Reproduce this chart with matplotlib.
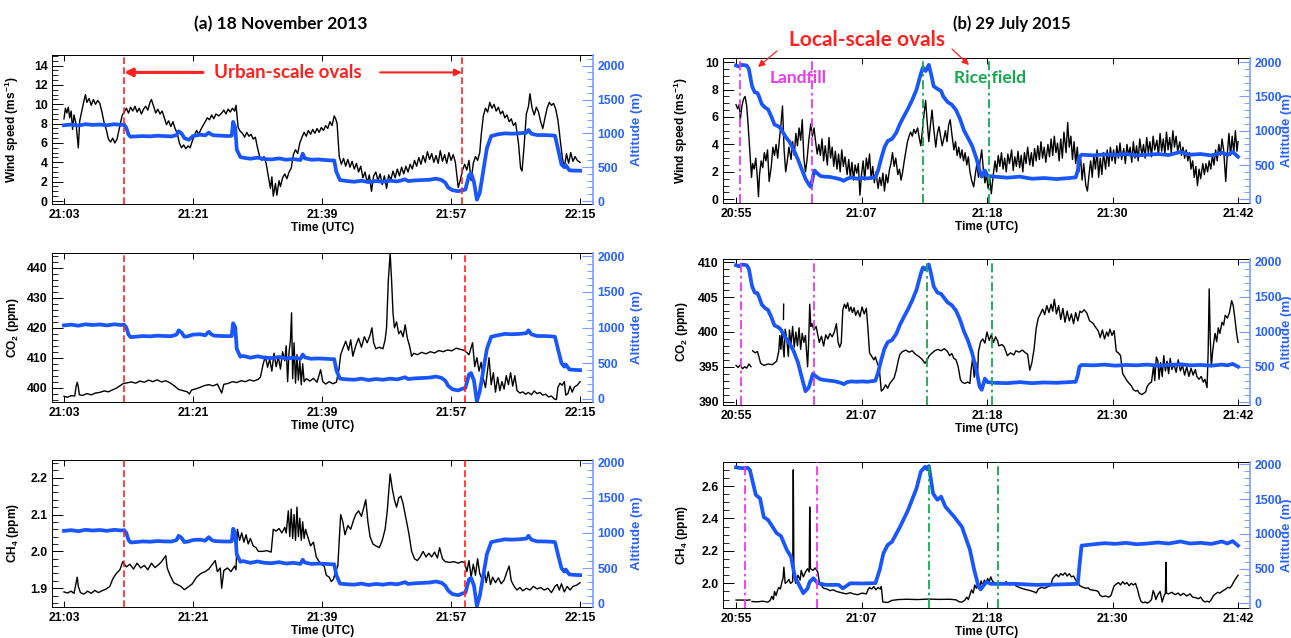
import matplotlib
matplotlib.use("Agg")
import matplotlib.pyplot as plt
import numpy as np
from matplotlib.ticker import MultipleLocator

plt.rcParams['font.family'] = ['Liberation Sans', 'DejaVu Sans']
plt.rcParams['font.weight'] = 'bold'
plt.rcParams['mathtext.fontset'] = 'custom'
plt.rcParams['mathtext.rm'] = 'Liberation Sans:bold'
plt.rcParams['mathtext.bf'] = 'Liberation Sans:bold'
plt.rcParams['mathtext.default'] = 'rm'

# time is in minutes after 20:00 UTC
# ---------------- (a) 18 November 2013 ----------------
wind_a = [(63.0,8.5),(63.2,9.6),(63.4,9.1),(63.6,9.7),(63.8,8.6),(64.0,9.3),(64.2,7.4),(64.4,8.9),(64.7,7.9),(65.0,5.5),(65.2,8.3),(65.4,9.0),
          (65.6,9.7),(65.8,10.4),(66.0,11.0),(66.2,10.2),(66.5,10.6),(66.8,9.9),(67.1,10.5),(67.4,10.0),(67.7,10.4),(68.0,10.1),(68.3,9.2),
          (68.6,8.1),(68.9,7.4),(69.2,6.4),(69.5,6.1),(69.8,6.5),(70.1,6.0),(70.4,6.4),(70.8,7.8),(71.1,8.8),(71.4,9.2),
          (71.7,9.6),(72.0,9.1),(72.3,9.7),(72.6,9.3),(72.9,9.8),(73.2,9.2),(73.5,9.6),(73.8,9.0),(74.1,9.5),(74.4,9.8),(74.7,9.4),
          (75.0,10.2),(75.2,10.5),(75.5,9.8),(75.8,9.1),(76.1,9.5),(76.4,9.0),(76.7,9.3),
          (77.0,8.6),(77.3,7.9),(77.6,8.3),(77.9,7.7),(78.2,8.2),(78.5,7.5),(78.8,7.0),
          (79.1,6.0),(79.4,5.5),(79.7,5.8),(80.0,5.4),(80.3,5.7),(80.6,5.5),(80.9,6.2),
          (81.2,6.8),(81.5,7.3),(81.8,6.9),(82.1,7.4),(82.4,7.8),
          (82.7,8.2),(83.0,8.6),(83.3,8.4),(83.6,8.9),(83.9,8.5),(84.2,9.0),(84.6,8.8),
          (85.0,9.1),(85.3,9.4),(85.6,9.0),(85.9,9.5),(86.2,9.2),(86.5,9.6),(86.8,9.3),(87.0,9.9),
          (87.3,7.6),(87.6,7.2),(87.9,7.0),(88.2,6.6),(88.5,7.1),(88.8,6.7),(89.1,6.9),(89.4,6.4),(89.7,6.6),
          (90.0,5.5),(90.3,4.6),(90.6,4.2),(90.9,4.6),(91.2,3.9),
          (91.5,2.6),(91.8,1.3),(92.0,2.5),(92.2,0.5),(92.5,1.8),(92.7,0.6),(93.0,2.1),(93.2,1.5),(93.5,2.4),
          (93.8,2.8),(94.1,2.3),(94.4,3.0),(94.7,3.4),(95.0,4.8),(95.3,5.3),(95.6,4.9),(95.9,6.0),
          (96.2,6.6),(96.5,7.1),(96.8,6.7),(97.1,7.3),(97.4,6.9),(97.7,7.4),(98.0,7.0),(98.3,7.5),(98.6,7.1),(98.9,7.6),(99.2,7.3),
          (99.5,7.8),(99.8,7.5),(100.1,8.2),(100.4,7.8),(100.7,8.8),(100.9,8.5),(101.1,8.0),
          (101.4,4.6),(101.7,3.8),(102.0,4.4),(102.3,3.6),(102.6,4.3),(102.9,3.5),(103.2,4.1),(103.5,3.3),(103.8,3.9),(104.1,3.0),(104.4,3.6),
          (104.7,2.4),(105.0,3.0),(105.3,1.9),(105.6,2.7),(105.9,1.0),(106.2,2.6),(106.5,3.0),(106.8,2.1),(107.1,2.8),(107.4,1.7),(107.7,2.6),(108.0,1.3),(108.3,2.7),
          (108.6,2.2),(108.9,3.1),(109.2,2.4),(109.5,3.3),(109.8,2.6),(110.1,3.5),(110.4,2.8),(110.7,3.6),(111.0,3.0),(111.3,3.8),
          (111.6,3.3),(111.9,4.2),(112.2,3.6),(112.5,4.5),(112.8,3.8),(113.1,4.7),(113.4,4.0),(113.7,5.1),(114.0,4.3),
          (114.3,4.9),(114.6,4.0),(114.9,4.7),(115.2,3.9),(115.5,5.2),(115.8,4.1),(116.1,4.8),(116.4,3.9),(116.7,5.0),(117.0,4.2),(117.3,4.8),(117.6,4.0),
          (118.0,1.4),(118.3,2.2),(118.6,3.2),(118.9,3.8),(119.2,3.2),(119.5,4.2),(119.8,2.1),(120.1,3.9),(120.4,4.6),(120.7,4.2),(121.0,5.0),
          (121.2,6.8),(121.5,8.8),(121.8,9.6),(122.1,9.2),(122.4,10.2),(122.7,9.6),(123.0,10.0),(123.3,9.3),(123.6,9.7),(123.9,9.0),(124.2,9.3),
          (124.5,8.6),(124.8,8.9),(125.1,8.2),(125.4,8.5),(125.7,7.8),(126.0,8.1),
          (126.4,6.0),(126.7,3.4),(126.9,3.1),(127.2,5.8),(127.5,9.0),(127.8,9.8),(128.0,11.1),(128.3,9.6),(128.6,8.9),(128.9,9.7),(129.2,9.2),
          (129.5,8.2),(129.8,7.5),(130.1,8.6),(130.4,9.6),(130.7,10.2),(131.0,9.9),(131.3,10.1),(131.6,9.5),(131.9,8.4),(132.2,6.5),(132.5,4.6),
          (132.8,3.4),(133.1,4.9),(133.4,3.9),(133.7,5.0),(134.0,4.1),(134.3,4.6),(134.6,4.2),(135.0,4.0)]

co2_a = [(63.0,397.1),(63.5,396.8),(64.0,397.3),(64.5,397.2),(64.7,400.5),(64.85,401.8),(65.0,400.2),(65.15,397.6),(65.6,397.4),(66.2,398.0),
         (66.8,397.6),(67.4,398.2),(68.0,398.4),(68.6,398.9),(69.2,398.6),(69.8,399.3),(70.3,399.8),(70.8,400.6),(71.3,401.4),(71.8,401.6),
         (72.4,401.9),(73.0,401.5),(73.6,402.2),(74.2,401.8),(74.8,402.5),(75.4,402.0),(76.0,402.6),(76.6,401.9),(77.2,402.3),(77.8,401.6),
         (78.4,400.6),(79.0,399.4),(79.6,399.0),(80.2,398.6),(80.5,397.9),(80.8,399.2),(81.4,399.6),(82.0,400.1),(82.6,400.7),(83.2,401.0),
         (83.8,400.6),(84.4,401.2),(85.0,398.2),(85.3,401.1),(85.9,401.4),(86.5,402.0),(87.1,401.7),(87.7,402.3),(88.3,402.0),(88.9,402.6),
         (89.5,402.2),(90.1,402.8),(90.4,403.5),(90.8,408.0),(91.1,410.5),(91.4,406.8),(91.7,409.5),(92.0,405.5),(92.3,411.5),(92.6,407.0),
         (92.9,410.3),(93.2,406.2),(93.5,412.0),(93.8,409.0),(94.0,414.0),(94.2,402.0),(94.4,412.0),(94.6,416.0),(94.75,425.0),(94.9,403.0),
         (95.1,415.0),(95.3,401.5),(95.5,411.0),(95.7,402.5),(95.9,409.0),(96.1,401.0),(96.3,408.0),(96.5,402.0),(96.8,403.0),(97.3,402.2),
         (97.8,403.1),(98.3,401.8),(98.8,406.0),(99.1,402.0),(99.5,401.2),(100.0,402.0),(100.5,401.3),(101.0,401.8),(101.35,406.0),(101.6,411.0),
         (101.9,413.0),(102.3,415.5),(102.7,412.5),(103.0,416.0),(103.3,410.5),(103.7,414.0),(104.1,416.5),(104.5,413.5),(104.9,417.0),(105.3,415.0),
         (105.7,417.5),(105.96,420.0),(106.2,415.0),(106.5,413.0),(107.0,413.5),(107.5,413.0),(107.8,416.0),(108.0,420.0),(108.25,436.0),(108.5,445.0),
         (108.7,436.0),(108.9,425.0),(109.1,420.0),(109.4,422.0),(109.7,418.0),(110.0,419.0),(110.3,417.0),(110.6,421.0),(110.9,416.5),(111.2,414.0),
         (111.5,410.5),(111.8,411.5),(112.3,411.0),(112.9,411.8),(113.5,411.3),(114.1,412.0),(114.7,411.6),(115.3,412.4),(115.9,412.0),(116.5,412.6),
         (117.1,412.3),(117.7,413.2),(118.3,412.8),(118.9,412.4),(119.5,411.0),(120.0,415.0),(120.3,407.0),(120.6,410.0),(120.9,405.5),(121.2,408.5),
         (121.5,403.0),(121.8,400.0),(122.0,404.0),(122.3,410.0),(122.6,401.0),(122.9,405.0),(123.2,398.5),(123.5,403.5),(123.8,399.0),(124.1,402.0),
         (124.4,399.5),(124.7,404.0),(125.0,401.0),(125.3,405.0),(125.6,400.5),(125.9,404.0),(126.2,399.0),(126.6,398.2),(127.0,398.6),(127.4,397.8),
         (127.8,398.4),(128.2,397.6),(128.6,398.9),(129.0,398.0),(129.4,398.4),(129.8,397.5),(130.2,397.8),(130.6,396.9),(131.0,397.2),(131.4,396.2),
         (131.7,396.0),(131.9,400.0),(132.2,401.5),(132.5,400.8),(132.8,402.0),(133.0,397.5),(133.3,398.0),(133.6,400.5),(133.9,398.5),(134.2,400.2),
         (134.6,400.8),(135.0,402.0)]

ch4_a = [(63.0,1.890),(63.5,1.887),(64.0,1.892),(64.4,1.886),(64.7,1.915),(64.85,1.930),(65.0,1.905),(65.3,1.888),(65.8,1.884),(66.3,1.892),
         (66.8,1.886),(67.3,1.894),(67.8,1.888),(68.3,1.893),(68.9,1.898),(69.4,1.905),(69.8,1.925),(70.3,1.940),(70.8,1.950),(71.2,1.972),
         (71.7,1.958),(72.2,1.965),(72.7,1.952),(73.2,1.968),(73.7,1.955),(74.2,1.962),(74.7,1.950),(75.2,1.968),(75.7,1.956),(76.2,1.964),
         (76.6,1.972),(77.2,1.988),(77.4,1.955),(77.8,1.935),(78.3,1.915),(78.8,1.910),(79.3,1.905),(79.8,1.896),(80.3,1.903),(80.9,1.912),
         (81.5,1.930),(82.1,1.940),(82.7,1.945),(83.2,1.952),(84.1,1.975),(84.4,1.945),(84.8,1.955),(85.0,1.900),(85.3,1.948),(85.8,1.955),
         (86.3,1.945),(86.8,1.960),(87.0,1.950),(87.2,2.060),(87.5,2.030),(87.8,2.050),(88.1,2.025),(88.4,2.045),(88.7,2.020),(89.0,2.035),
         (89.4,2.015),(89.8,2.010),(90.1,2.000),(90.7,2.000),(91.3,2.002),(91.9,1.998),(92.2,2.060),(92.6,2.055),(93.0,2.062),(93.4,2.050),
         (93.8,2.065),(94.0,2.050),(94.3,2.110),(94.5,2.040),(94.7,2.115),(94.9,2.035),(95.1,2.100),(95.3,2.030),(95.5,2.120),(95.7,2.040),
         (95.9,2.090),(96.1,2.030),(96.3,2.080),(96.5,2.035),(96.7,2.060),(97.0,2.040),(97.4,2.015),(97.8,2.025),(98.2,1.985),(98.5,1.975),
         (98.9,1.965),(99.3,1.960),(99.6,1.935),(100.0,1.930),(100.3,1.918),(100.6,1.925),(100.9,1.945),(101.2,1.960),(101.6,2.100),(101.9,2.080),
         (102.2,2.045),(102.6,2.070),(103.0,2.060),(103.4,2.085),(103.7,2.100),(104.1,2.110),(104.5,2.095),(105.1,2.140),(105.4,2.080),(105.7,2.040),
         (106.1,2.020),(106.5,2.015),(107.0,2.010),(107.4,2.030),(107.8,2.060),(108.1,2.110),(108.5,2.210),(108.8,2.170),(109.1,2.140),(109.4,2.120),
         (109.7,2.145),(110.0,2.150),(110.3,2.130),(110.6,2.100),(111.1,2.050),(111.5,2.000),(111.9,1.980),(112.3,1.975),(112.7,1.985),(113.1,2.000),
         (113.5,1.985),(113.9,1.995),(114.3,1.985),(114.7,1.998),(115.1,1.982),(115.4,2.010),(115.8,1.980),(116.2,1.972),(116.8,1.970),(117.4,1.972),
         (118.0,1.968),(118.5,1.972),(118.9,1.970),(119.2,1.945),(119.5,1.975),(119.8,1.930),(120.1,1.965),(120.4,1.935),(120.7,1.980),(121.0,1.940),
         (121.3,1.925),(121.6,1.950),(121.9,1.915),(122.2,1.945),(122.5,1.910),(122.8,1.930),(123.2,1.915),(123.6,1.928),(124.0,1.912),(124.4,1.922),
         (124.8,1.945),(125.1,1.960),(125.4,1.920),(125.8,1.905),(126.2,1.895),(126.6,1.902),(127.0,1.893),(127.5,1.900),(128.0,1.895),(128.5,1.905),
         (129.0,1.898),(129.5,1.902),(130.0,1.895),(130.5,1.900),(131.0,1.888),(131.5,1.905),(131.8,1.910),(132.1,1.895),(132.4,1.912),(132.8,1.890),
         (133.2,1.905),(133.6,1.895),(134.0,1.905),(134.5,1.908),(135.0,1.915)]

# altitude as drawn with the wind record
alt_a_wind = [(63.0,1120),(64.0,1130),(65.0,1115),(66.0,1135),(67.0,1125),(68.0,1130),(69.0,1120),(70.0,1135),(71.0,1125),(71.4,1130),
              (71.7,1080),(72.0,980),(72.3,950),(73.0,955),(74.0,960),(75.0,955),(76.0,965),(77.0,960),(78.0,955),(78.7,975),(79.0,1030),
              (79.4,1000),(79.8,930),(80.4,905),(81.0,960),(82.0,980),(82.7,970),(83.2,1010),(83.6,980),(84.0,970),(85.0,965),(86.0,960),
              (86.4,965),(86.6,1170),(86.9,1080),(87.1,760),(87.6,650),(88.0,640),(89.0,625),(90.0,640),(91.0,620),(92.0,615),(93.0,630),
              (94.0,610),(95.0,620),(96.0,605),(96.3,700),(96.6,630),(97.5,610),(98.5,615),(99.5,605),(100.3,600),(100.7,600),(101.0,430),
              (101.5,310),(102.5,295),(103.5,285),(104.5,300),(105.5,280),(106.5,295),(107.5,285),(108.5,300),(109.5,290),(110.6,320),
              (111.0,295),(112.0,305),(113.0,310),(114.0,315),(114.9,330),(115.7,310),(116.2,270),(116.6,200),(117.2,160),(118.0,145),
              (118.6,160),(119.0,170),(119.5,380),(119.8,410),(120.2,280),(120.6,20),(121.0,120),(121.5,450),(122.0,780),(122.6,960),
              (123.5,985),(124.5,1000),(125.5,995),(126.5,1000),(127.5,1010),(127.8,1050),(128.2,995),(129.0,975),(130.0,975),(131.0,970),
              (131.5,965),(131.9,780),(132.4,540),(132.8,500),(133.0,530),(133.5,455),(134.0,450),(135.0,448)]

# altitude as drawn with the trace-gas records
alt_a = [(63.0,1030),(64.0,1040),(65.0,1025),(66.0,1045),(67.0,1035),(68.0,1042),(69.0,1030),(70.0,1045),(71.0,1035),(71.4,1040),(71.7,1000),
         (72.0,900),(72.3,865),(73.0,870),(74.0,880),(75.0,875),(76.0,885),(77.0,880),(78.0,878),(78.7,900),(79.0,960),(79.4,930),(79.8,870),
         (80.4,880),(81.0,900),(82.0,905),(82.7,890),(83.2,940),(83.6,900),(84.0,885),(85.0,880),(86.0,878),(86.4,880),(86.6,1060),(86.9,1000),
         (87.1,700),(87.6,590),(88.0,600),(89.0,575),(90.0,595),(91.0,575),(92.0,570),(93.0,585),(94.0,565),(95.0,575),(96.0,560),(96.3,620),
         (96.6,580),(97.5,560),(98.5,565),(99.5,560),(100.3,555),(100.7,555),(101.0,400),(101.5,280),(102.5,270),(103.5,265),(104.5,280),
         (105.5,260),(106.5,275),(107.5,265),(108.5,280),(109.5,270),(110.6,300),(111.0,275),(112.0,285),(113.0,290),(114.0,295),(114.9,310),
         (115.7,290),(116.2,250),(116.6,180),(117.2,130),(118.0,115),(118.6,140),(119.0,150),(119.5,340),(119.8,360),(120.2,250),(120.6,-40),
         (121.0,100),(121.5,400),(122.0,700),(122.6,870),(123.5,890),(124.5,910),(125.5,905),(126.5,910),(127.5,920),(127.8,960),(128.2,905),
         (129.0,880),(130.0,880),(131.0,875),(131.5,870),(131.9,700),(132.4,500),(132.8,450),(133.0,480),(133.5,410),(134.0,405),(135.0,400)]

# ---------------- (b) 29 July 2015 ----------------
wind_b = [(55.0,6.9),(55.15,6.6),(55.3,6.9),(55.4,5.8),(55.55,6.8),(55.7,7.3),(55.85,7.5),(56.0,6.8),(56.15,5.2),(56.3,3.4),(56.45,1.6),
          (56.55,2.6),(56.7,2.2),(56.85,3.0),(57.0,1.5),(57.1,0.2),(57.2,1.8),(57.35,2.8),(57.5,2.3),(57.65,3.4),(57.8,2.8),(57.95,3.6),
          (58.1,1.3),(58.3,2.4),(58.45,3.8),(58.6,3.2),(58.75,4.0),(58.9,3.0),(59.05,4.3),(59.2,5.4),(59.35,6.8),(59.5,3.6),(59.65,2.0),
          (59.8,2.8),(59.95,3.8),(60.15,2.9),(60.3,4.2),(60.45,3.2),(60.6,4.8),(60.75,3.9),(60.9,5.2),(61.05,4.3),(61.2,5.8),(61.35,3.0),
          (61.5,2.0),(61.65,2.9),(61.8,4.2),(62.0,5.5),(62.15,4.6),(62.3,5.2),(62.45,4.2),(62.6,3.3),(62.75,4.0),(62.9,3.2),(63.05,4.4),
          (63.2,2.8),(63.35,3.9),(63.55,2.5),(63.7,4.5),(63.85,3.0),(64.0,3.8),(64.15,2.4),(64.3,3.5),(64.45,2.2),(64.6,3.3),(64.75,2.0),
          (64.9,3.6),(65.05,2.4),(65.2,3.1),(65.4,1.8),(65.55,2.9),(65.7,1.6),(65.85,2.7),(66.0,1.4),(66.15,2.5),(66.3,1.9),(66.45,2.6),
          (66.6,0.3),(66.75,1.8),(66.9,2.8),(67.05,1.4),(67.2,3.0),(67.35,2.2),(67.5,3.3),(67.65,1.5),(67.8,2.4),(67.95,1.2),(68.1,2.0),
          (68.3,0.8),(68.45,1.6),(68.6,1.0),(68.75,1.9),(68.9,0.6),(69.05,1.8),(69.2,1.2),(69.35,2.1),(69.5,2.6),(69.65,3.4),(69.8,2.4),
          (69.95,3.0),(70.15,1.8),(70.3,2.2),(70.45,1.4),(70.6,2.0),(70.75,2.8),(70.9,3.5),(71.05,4.2),(71.2,4.6),(71.35,4.9),(71.5,4.6),
          (71.65,5.1),(71.8,4.8),(72.0,5.2),(72.15,4.5),(72.3,3.9),(72.45,5.0),(72.6,6.2),(72.75,7.2),(72.9,5.6),(73.05,4.2),(73.2,5.4),
          (73.35,6.5),(73.5,5.2),(73.7,3.8),(73.85,4.8),(74.0,5.3),(74.15,4.6),(74.3,3.9),(74.45,4.4),(74.6,5.0),(74.75,4.2),(74.9,5.4),
          (75.05,5.8),(75.2,4.8),(75.4,3.6),(75.55,4.2),(75.7,3.2),(75.85,3.8),(76.0,3.0),(76.15,3.6),(76.3,2.8),(76.45,3.4),(76.6,2.5),
          (76.75,3.1),(76.9,2.0),(77.05,1.4),(77.25,0.9),(77.4,1.8),(77.55,2.6),(77.7,1.6),(77.85,2.8),(78.0,3.6),(78.15,2.2),(78.3,1.2),
          (78.45,1.8),(78.6,0.8),(78.75,1.6),(78.9,0.4),(79.1,1.9),(79.25,2.8),(79.4,2.0),(79.55,3.2),(79.7,2.4),(79.85,3.4),(80.0,2.2),
          (80.15,3.0),(80.3,2.0),(80.45,3.3),(80.6,2.6),(80.8,3.6),(80.95,2.1),(81.1,3.1),(81.25,2.4),(81.4,3.5),(81.55,2.3),(81.7,3.2),
          (81.85,2.0),(82.0,3.4),(82.15,2.6),(82.3,3.8),(82.5,2.5),(82.65,3.4),(82.8,2.4),(82.95,3.7),(83.1,2.8),(83.25,3.9),(83.4,2.9),
          (83.55,4.2),(83.7,3.0),(83.85,3.8),(84.0,2.7),(84.2,4.0),(84.35,3.1),(84.5,4.4),(84.65,3.2),(84.8,4.6),(84.95,3.4),(85.1,4.1),
          (85.25,2.8),(85.4,4.4),(85.55,3.0),(85.7,4.9),(85.9,3.4),(86.05,5.6),(86.2,3.8),(86.35,4.6),(86.5,2.9),(86.65,4.2),(86.8,2.6),
          (86.95,3.8),(87.1,2.0),(87.25,3.2),(87.4,1.4),(87.55,2.6),(87.75,1.0),(87.9,0.6),(88.05,1.8),(88.2,2.8),(88.35,1.6),(88.5,3.2),
          (88.65,2.2),(88.8,3.6),(88.95,1.6),(89.1,3.0),(89.25,1.8),(89.4,3.4),(89.6,2.2),(89.75,3.6),(89.9,2.4),(90.05,3.8),(90.2,2.8),
          (90.35,3.6),(90.5,2.6),(90.65,3.9),(90.8,3.0),(90.95,4.1),(91.1,2.9),(91.3,3.7),(91.45,2.6),(91.6,4.0),(91.75,3.2),(91.9,3.8),
          (92.05,2.7),(92.2,4.2),(92.35,3.0),(92.5,3.9),(92.65,2.8),(92.8,4.4),(93.0,3.2),(93.15,4.0),(93.3,3.0),(93.45,4.5),(93.6,3.4),
          (93.75,4.2),(93.9,3.1),(94.05,4.6),(94.2,3.6),(94.4,4.3),(94.55,3.2),(94.7,4.8),(94.85,3.5),(95.0,4.4),(95.15,3.3),(95.3,4.9),
          (95.45,3.6),(95.6,4.5),(95.75,3.4),(95.9,5.0),(96.05,3.8),(96.2,4.6),(96.35,3.5),(96.55,4.2),(96.7,3.2),(96.85,3.8),(97.0,3.0),
          (97.15,3.6),(97.3,2.8),(97.45,3.4),(97.6,2.2),(97.75,2.8),(97.9,1.6),(98.05,2.4),(98.2,1.0),(98.35,2.2),(98.5,1.5),(98.7,2.6),
          (98.85,1.8),(99.0,2.6),(99.15,2.0),(99.3,2.8),(99.45,2.2),(99.6,3.2),(99.75,2.5),(99.9,3.6),(100.05,2.8),(100.2,4.0),(100.35,3.2),
          (100.5,4.4),(100.65,3.6),(100.85,1.3),(101.0,3.4),(101.15,4.8),(101.3,3.2),(101.45,4.6),(101.6,3.4),(101.75,5.0),(101.9,3.5),(102.0,4.2)]

co2_b = [(55.0,395.2),(55.2,394.9),(55.4,395.3),(55.6,394.7),(55.8,395.0),(56.0,394.8),(56.2,395.4),(56.4,395.0),(56.48,np.nan),
         (56.55,397.3),(56.8,397.0),(57.0,397.2),(57.15,396.4),(57.3,395.5),(57.6,395.2),(58.0,395.4),(58.4,395.3),(58.8,395.8),(59.0,397.2),
         (59.1,399.5),(59.2,397.5),(59.3,400.2),(59.4,398.0),(59.5,396.4),(59.6,400.4),(59.75,399.0),(59.9,396.5),(60.0,400.3),(60.15,398.2),
         (60.3,400.8),(60.45,397.8),(60.6,400.0),(60.75,398.0),(60.9,400.6),(61.05,397.5),(61.2,399.8),(61.35,398.5),(61.5,399.5),(61.7,395.0),
         (61.8,398.5),(61.9,404.0),(62.0,400.8),(62.1,401.2),(62.3,400.3),(62.5,400.8),(62.65,399.6),(62.8,398.5),(63.0,399.4),(63.2,398.0),
         (63.4,399.6),(63.6,399.0),(63.8,399.8),(64.0,399.3),(64.2,400.0),(64.4,401.2),(64.55,398.6),(64.7,397.8),(64.85,398.4),(65.0,403.2),
         (65.15,404.0),(65.3,403.4),(65.45,404.2),(65.6,403.0),(65.75,403.6),(65.9,402.8),(66.05,403.5),(66.2,402.4),(66.4,403.1),(66.6,402.2),
         (66.8,403.6),(67.0,402.6),(67.2,403.4),(67.35,400.5),(67.5,397.0),(67.7,396.5),(67.9,396.0),(68.05,396.4),(68.25,395.4),(68.4,395.0),
         (68.6,391.5),(68.8,391.8),(69.0,392.4),(69.2,391.9),(69.4,392.6),(69.6,393.0),(69.8,393.4),(70.0,394.5),(70.2,396.0),(70.35,396.8),
         (70.6,397.2),(70.9,397.4),(71.2,397.1),(71.5,397.3),(71.8,396.8),(72.1,396.5),(72.4,396.1),(72.7,395.5),(72.9,396.0),(73.05,396.5),
         (73.3,396.9),(73.6,397.3),(73.9,397.5),(74.2,397.3),(74.5,397.6),(74.8,397.2),(75.0,396.6),(75.2,396.9),(75.4,396.2),(75.6,396.0),
         (75.8,395.0),(76.0,393.2),(76.15,392.8),(76.4,392.6),(76.7,392.8),(76.9,392.6),(77.0,394.5),(77.15,396.2),(77.3,393.5),(77.45,395.6),
         (77.6,393.6),(77.7,397.2),(77.9,398.6),(78.1,399.0),(78.3,398.4),(78.5,400.0),(78.7,398.8),(78.9,399.6),(79.1,398.5),(79.3,399.3),
         (79.5,398.7),(79.6,398.0),(79.9,398.2),(80.1,397.9),(80.4,396.6),(80.7,397.0),(81.0,396.7),(81.2,397.3),(81.5,397.1),(81.8,397.4),
         (82.1,397.0),(82.3,396.8),(82.5,394.5),(82.7,395.6),(82.9,397.5),(83.1,400.5),(83.3,402.0),(83.5,402.6),(83.7,403.3),(83.9,402.5),
         (84.1,403.8),(84.3,402.8),(84.5,404.0),(84.65,403.0),(84.8,404.7),(85.0,402.6),(85.2,403.8),(85.4,401.8),(85.6,403.4),(85.8,401.4),
         (86.0,403.0),(86.2,401.6),(86.4,402.6),(86.6,401.2),(86.8,402.8),(87.0,401.6),(87.2,403.0),(87.35,402.8),(87.6,403.2),(87.85,402.7),
         (88.1,401.6),(88.4,401.3),(88.7,400.6),(88.9,400.2),(89.1,399.2),(89.3,400.3),(89.5,399.0),(89.7,400.0),(89.85,399.4),(90.0,400.4),
         (90.2,399.5),(90.4,400.2),(90.6,397.2),(90.8,397.0),(91.0,396.6),(91.2,394.0),(91.4,393.5),(91.6,393.0),(91.8,392.6),(92.0,392.3),
         (92.2,391.7),(92.4,391.5),(92.6,391.6),(92.75,391.2),(93.0,391.0),(93.2,391.2),(93.35,391.4),(93.5,392.2),(93.7,392.6),(93.9,392.8),
         (94.0,394.0),(94.1,395.2),(94.2,393.0),(94.35,396.4),(94.5,395.8),(94.6,393.2),(94.75,395.6),(94.9,393.6),(95.05,396.6),(95.2,394.4),
         (95.35,395.8),(95.5,394.0),(95.65,396.2),(95.8,394.6),(96.0,395.4),(96.2,394.2),(96.4,396.0),(96.6,394.4),(96.8,395.2),(97.0,393.8),
         (97.2,395.0),(97.4,393.6),(97.6,394.8),(97.8,393.8),(98.0,394.6),(98.15,393.6),(98.35,393.2),(98.55,393.6),(98.75,392.8),(98.9,393.2),
         (99.1,392.0),(99.2,397.0),(99.3,406.2),(99.4,399.0),(99.5,395.0),(99.6,396.8),(99.7,398.2),(99.85,399.8),(100.0,398.6),(100.15,400.6),
         (100.3,399.8),(100.5,401.4),(100.65,401.0),(100.8,402.4),(101.0,402.0),(101.2,402.8),(101.4,404.5),(101.55,403.8),(101.7,402.0),
         (101.85,400.0),(102.0,398.5)]
co2_b_burst = [(59.44,401.8),(59.46,404.0)]

ch4_b = [(55.0,1.897),(55.5,1.897),(56.0,1.896),(56.3,1.898),(56.4,np.nan),(56.5,1.888),(57.0,1.886),(57.5,1.890),(58.0,1.884),(58.2,1.895),
         (58.35,1.920),(58.5,1.900),(58.6,1.950),(58.75,1.925),(58.9,1.960),(59.0,1.975),(59.15,1.965),(59.3,2.010),(59.4,2.030),(59.48,2.100),
         (59.6,2.000),(59.8,2.010),(59.95,2.025),(60.1,2.000),(60.3,2.010),(60.36,2.700),(60.42,2.040),(60.6,2.000),(60.8,2.050),(61.0,2.020),
         (61.1,2.080),(61.3,2.040),(61.5,2.070),(61.7,2.090),(61.85,2.070),(61.9,2.470),(61.97,2.090),(62.2,2.080),(62.4,2.095),(62.65,2.070),
         (62.8,2.010),(63.0,1.985),(63.2,1.970),(63.5,1.965),(63.8,1.955),(64.1,1.960),(64.4,1.950),(64.7,1.945),(65.0,1.940),(65.3,1.935),
         (65.7,1.942),(66.0,1.935),(66.4,1.930),(66.8,1.940),(67.2,1.935),(67.35,1.960),(67.5,1.975),(67.7,1.965),(67.9,1.980),(68.1,1.960),
         (68.3,1.975),(68.5,1.965),(68.6,1.980),(68.74,1.885),(69.2,1.882),(69.6,1.895),(70.2,1.900),(71.0,1.902),(72.0,1.900),(73.0,1.903),
         (74.0,1.901),(75.0,1.902),(75.6,1.898),(75.9,1.886),(76.15,1.884),(76.4,1.895),(76.6,1.915),(76.75,1.900),(76.9,1.930),(77.05,1.960),
         (77.2,1.940),(77.35,1.990),(77.5,1.970),(77.65,2.005),(77.8,1.975),(77.95,2.015),(78.1,1.985),(78.25,2.020),(78.4,1.995),(78.55,2.030),
         (78.7,2.010),(78.85,2.040),(79.0,2.015),(79.25,2.000),(79.5,1.990),(79.75,2.005),(80.0,1.995),(80.3,2.010),(80.6,1.990),(80.9,2.005),
         (81.2,1.985),(81.5,1.975),(81.8,1.968),(82.1,1.962),(82.4,1.958),(82.7,1.952),(83.0,1.945),(83.1,1.940),(83.3,1.965),(83.6,1.975),
         (83.9,1.970),(84.2,1.980),(84.45,1.985),(84.65,2.030),(84.85,2.045),(85.0,2.055),(85.2,2.040),(85.4,2.060),(85.6,2.050),(85.8,2.065),
         (86.0,2.045),(86.2,2.060),(86.4,2.040),(86.6,2.045),(86.8,2.020),(87.0,2.000),(87.2,1.985),(87.4,1.978),(87.7,1.970),(88.0,1.972),
         (88.1,1.962),(88.4,1.958),(88.7,1.955),(88.9,1.950),(89.1,1.925),(89.3,1.918),(89.6,1.922),(89.9,1.915),(90.1,1.925),(90.4,1.985),
         (90.6,1.995),(90.8,2.005),(91.0,1.990),(91.2,2.010),(91.4,1.995),(91.6,2.005),(91.8,1.985),(92.0,2.000),(92.2,1.990),(92.4,2.000),
         (92.6,1.960),(92.75,1.920),(92.9,1.890),(93.1,1.880),(93.3,1.885),(93.5,1.878),(93.7,1.886),(93.9,1.900),(94.05,1.955),(94.2,1.930),
         (94.3,1.900),(94.5,1.930),(94.7,1.950),(94.9,1.885),(95.05,1.920),(95.2,1.940),(95.25,2.130),(95.3,1.940),(95.5,1.935),(95.8,1.945),
         (96.1,1.930),(96.4,1.940),(96.6,1.925),(96.9,1.938),(97.2,1.922),(97.5,1.935),(97.75,1.915),(98.0,1.912),(98.3,1.905),(98.5,1.915),
         (98.7,1.895),(98.9,1.885),(99.1,1.890),(99.3,1.884),(99.5,1.900),(99.7,1.925),(99.9,1.935),(100.1,1.945),(100.3,1.940),(100.5,1.950),
         (100.85,1.965),(101.05,1.975),(101.25,1.972),(101.45,1.990),(101.6,2.010),(101.8,2.030),(102.0,2.050)]

# altitude as drawn with the wind record
alt_b = [(55.0,1950),(55.3,1935),(55.5,1960),(55.8,1955),(56.0,1950),(56.2,1900),(56.5,1650),(56.75,1560),(57.0,1550),(57.15,1500),
         (57.4,1390),(57.7,1340),(58.0,1310),(58.3,1210),(58.6,1090),(59.0,1060),(59.2,1030),(59.6,920),(60.0,840),(60.4,720),(60.8,580),
         (61.2,420),(61.5,300),(61.8,220),(62.0,180),(62.2,330),(62.35,420),(62.6,380),(62.9,340),(63.3,330),(63.8,325),(64.3,310),(64.8,290),
         (65.1,270),(65.4,300),(65.8,320),(66.3,300),(66.8,310),(67.3,305),(67.8,315),(68.05,320),(68.3,420),(68.6,600),(68.9,760),(69.2,850),
         (69.6,880),(70.0,970),(70.35,1100),(70.75,1220),(71.1,1320),(71.5,1450),(71.9,1600),(72.3,1830),(72.5,1920),(72.75,1870),(73.05,1960),
         (73.3,1800),(73.5,1650),(73.85,1610),(74.2,1580),(74.4,1500),(74.8,1420),(75.2,1380),(75.6,1300),(75.95,1180),(76.35,1000),(76.7,900),
         (77.1,780),(77.5,600),(77.8,420),(78.0,330),(78.3,420),(78.55,340),(79.25,330),(80.4,315),(81.55,330),(82.7,300),(83.85,310),(85.0,295),
         (86.2,310),(86.8,320),(87.0,420),(87.15,620),(87.35,650),(88.5,640),(89.5,655),(90.5,645),(91.5,660),(92.5,640),(93.5,650),(94.5,660),
         (95.5,645),(96.6,690),(97.5,650),(98.5,660),(99.5,640),(100.5,680),(101.0,645),(101.5,690),(102.0,620)]

# altitude as drawn with the carbon dioxide record
alt_b_co2 = [(55.0,1950),(55.3,1935),(55.5,1960),(55.8,1955),(56.0,1950),(56.2,1900),(56.5,1650),(56.75,1560),(57.0,1550),(57.15,1500),
             (57.4,1390),(57.7,1340),(58.0,1310),(58.3,1210),(58.6,1090),(59.0,1060),(59.2,1030),(59.6,920),(60.0,840),(60.4,720),(60.8,560),
             (61.1,380),(61.5,150),(61.8,200),(62.0,300),(62.2,400),(62.5,360),(62.9,320),(63.3,310),(63.8,300),(64.3,290),(64.8,270),
             (65.1,250),(65.4,280),(65.8,290),(66.3,285),(66.8,290),(67.3,285),(67.8,295),(68.05,300),(68.3,420),(68.6,600),(68.9,760),
             (69.2,850),(69.6,880),(70.0,970),(70.35,1100),(70.75,1220),(71.1,1320),(71.5,1450),(71.9,1600),(72.3,1830),(72.5,1920),
             (72.75,1890),(73.05,1960),(73.3,1800),(73.5,1650),(73.85,1560),(74.2,1540),(74.4,1500),(74.8,1420),(75.2,1380),(75.6,1300),
             (75.95,1180),(76.35,1000),(76.7,880),(77.1,700),(77.5,450),(77.8,220),(78.0,170),(78.3,330),(78.55,280),(79.25,270),(80.4,265),
             (81.55,280),(82.7,265),(83.85,275),(85.0,270),(86.2,280),(86.8,285),(87.0,380),(87.15,500),(87.35,525),(88.5,520),(89.5,530),
             (90.5,515),(91.5,525),(92.5,520),(93.5,530),(94.5,515),(95.5,525),(96.6,535),(97.5,520),(98.5,525),(99.5,515),(100.5,530),
             (101.0,520),(101.5,540),(102.0,500)]

# altitude as drawn with the methane record
alt_b_ch4 = [(55.0,1957),(55.5,1945),(56.1,1950),(56.3,1918),(56.85,1560),(57.25,1510),(57.6,1240),(58.0,1200),(58.8,1010),(59.2,970),
             (59.75,770),(60.15,670),(60.5,385),(60.9,265),(61.3,145),(61.7,215),(61.9,310),(62.25,360),(62.65,290),(63.4,265),(64.6,265),
             (65.0,215),(65.7,288),(66.9,285),(68.05,290),(68.45,480),(68.8,720),(69.2,840),(69.6,885),(70.35,1100),(71.1,1340),(71.9,1655),
             (72.3,1895),(72.7,1965),(72.9,1930),(73.05,1975),(73.45,1580),(73.85,1490),(74.2,1535),(74.6,1390),(75.4,1250),(76.15,1100),
             (76.9,770),(77.3,480),(77.7,240),(77.9,200),(78.45,310),(78.85,280),(81.15,280),(83.1,265),(85.0,270),(87.0,280),(87.15,540),
             (87.35,830),(88.5,850),(89.5,865),(90.5,855),(91.5,870),(92.5,850),(93.5,860),(94.5,875),(95.5,860),(96.6,890),(97.5,860),
             (98.5,870),(99.5,855),(100.5,890),(101.0,860),(101.5,895),(102.0,830)]

# flight-leg markers (minutes after 20:00), one value per panel row
urban_start = [71.4, 71.4, 71.4]
urban_end = [118.5, 118.9, 118.9]
landfill = [(55.4, 62.1), (55.5, 62.3), (55.8, 62.6)]
rice = [(72.5, 78.65), (72.85, 79.0), (73.1, 79.5)]

ticks_a = [63, 81, 99, 117, 135]
labels_a = ['21:03', '21:21', '21:39', '21:57', '22:15']
ticks_b = [55, 66.75, 78.5, 90.25, 102]
labels_b = ['20:55', '21:07', '21:18', '21:30', '21:42']

BLUE = '#1a56ff'
AXBLUE = '#7d9cff'
TXTBLUE = '#2a62ff'
RED = '#ff2020'
MAGENTA = '#e83ce8'
GREEN = '#16a850'

W, H = 1291, 638
fig = plt.figure(figsize=(W / 100, H / 100), dpi=100)


def rect(x0, x1, y0, y1):
    return [x0 / W, 1 - y1 / H, (x1 - x0) / W, (y1 - y0) / H]


def panel(box, series, alt, ylim, major, minor, alt_lim, ylabel, xlim, ticks, labels, lab_x, alt_lab_x):
    ax = fig.add_axes(box)
    t, v = np.array(series, dtype=float).T
    ax.plot(t, v, color='black', lw=1.0)
    ax.set_xlim(xlim)
    ax.set_ylim(ylim)
    ax.yaxis.set_major_locator(MultipleLocator(major))
    ax.yaxis.set_minor_locator(MultipleLocator(minor))
    ax.set_xticks(ticks)
    ax.set_xticklabels(labels)
    ax.tick_params(axis='x', direction='in', top=True, length=4, width=0.7,
                   labelsize=8.8, pad=3.5)
    ax.tick_params(axis='y', which='major', direction='in', length=8, width=0.7,
                   labelsize=8.8, pad=3, right=False)
    ax.tick_params(axis='y', which='minor', direction='in', length=4, width=0.6, right=False)
    for s in ('left', 'bottom', 'top'):
        ax.spines[s].set_linewidth(0.7)
    ax.spines['right'].set_visible(False)
    ax.set_ylabel(ylabel, fontsize=8.6, fontweight='bold')
    ax.yaxis.set_label_coords(lab_x, 0.5)
    ax.set_xlabel('Time (UTC)', fontsize=8.6, fontweight='bold', labelpad=0.5)

    ax2 = ax.twinx()
    ta, va = np.array(alt, dtype=float).T
    ax2.plot(ta, va, color=BLUE, lw=2.7, solid_joinstyle='round')
    ax2.set_ylim(alt_lim)
    ax2.yaxis.set_major_locator(MultipleLocator(500))
    ax2.yaxis.set_minor_locator(MultipleLocator(100))
    ax2.tick_params(axis='y', which='major', direction='in', length=8, width=0.8,
                    color=AXBLUE, labelcolor=TXTBLUE, labelsize=8.8, pad=3)
    ax2.tick_params(axis='y', which='minor', direction='in', length=4, width=0.7, color=AXBLUE)
    for s in ('left', 'bottom', 'top'):
        ax2.spines[s].set_visible(False)
    ax2.spines['right'].set_color(AXBLUE)
    ax2.spines['right'].set_linewidth(1.2)
    ax2.set_ylabel('Altitude (m)', color=TXTBLUE, fontsize=9.5, fontweight='bold')
    ax2.yaxis.set_label_coords(alt_lab_x, 0.5)
    return ax, ax2


left_x = (52, 593)
right_x = (723, 1250)
rows_a = [(55, 204), (253, 402), (460, 607)]
rows_b = [(58, 203), (259, 405), (462, 608)]
xlim_a = (61.33, 136.8)
xlim_b = (53.78, 103.12)

cfg_a = [
    (wind_a, alt_a_wind, (-0.31, 15.1), 2, 0.5, (-44, 2158), 'Wind speed (ms$^{-1}$)'),
    (co2_a, alt_a, (395.2, 445.0), 10, 2, (-48, 2048), 'CO$_2$ (ppm)'),
    (ch4_a, alt_a, (1.849, 2.248), 0.1, 0.02, (-53, 2038), 'CH$_4$ (ppm)'),
]
cfg_b = [
    (wind_b, alt_b, (-0.27, 10.3), 2, 0.5, (-54, 2060), 'Wind speed (ms$^{-1}$)'),
    (co2_b, alt_b_co2, (389.5, 410.5), 5, 1, (-47, 2039), 'CO$_2$ (ppm)'),
    (ch4_b, alt_b_ch4, (1.848, 2.748), 0.2, 0.05, (-68, 2034), 'CH$_4$ (ppm)'),
]

axes_a = []
for i, (series, alt, ylim, mj, mn, alim, lab) in enumerate(cfg_a):
    y0, y1 = rows_a[i]
    ax, ax2 = panel(rect(left_x[0], left_x[1], y0, y1), series, alt, ylim, mj, mn, alim, lab,
                    xlim_a, ticks_a, labels_a, -0.058, 1.07)
    for x in (urban_start[i], urban_end[i]):
        ax2.axvline(x, color=RED, lw=1.2, ls=(0, (4, 2)), zorder=5)
    axes_a.append(ax)

axes_b = []
for i, (series, alt, ylim, mj, mn, alim, lab) in enumerate(cfg_b):
    y0, y1 = rows_b[i]
    ax, ax2 = panel(rect(right_x[0], right_x[1], y0, y1), series, alt, ylim, mj, mn, alim, lab,
                    xlim_b, ticks_b, labels_b, -0.062, 1.058)
    if i == 1:
        tb, vb = np.array(co2_b_burst, dtype=float).T
        ax.plot(tb, vb, color='black', lw=1.0)
    for x in landfill[i]:
        ax2.axvline(x, color=MAGENTA, lw=1.3, ls=(0, (5, 2, 1.5, 2)), zorder=5)
    for x in rice[i]:
        ax2.axvline(x, color=GREEN, lw=1.3, ls=(0, (5, 2, 1.5, 2)), zorder=5)
    axes_b.append(ax)

# panel titles
fig.text(281 / W, 1 - 24 / H, '(a) 18 November 2013', ha='center', va='center',
         fontsize=12.5, fontweight='bold', family=['Lato', 'DejaVu Sans'])
fig.text(1012 / W, 1 - 24 / H, '(b) 29 July 2015', ha='center', va='center',
         fontsize=12, fontweight='bold', family=['Lato', 'DejaVu Sans'])

# urban-scale annotation inside the first left panel
ax = axes_a[0]
ax.text(94.2, 13.3, 'Urban-scale ovals', ha='center', va='center', color=RED,
        fontsize=13.5, fontweight='bold', family=['Lato', 'DejaVu Sans'])
ax.annotate('', xy=(urban_start[0], 13.3), xytext=(82.4, 13.3),
            arrowprops=dict(arrowstyle='-|>', color=RED, lw=2.2, mutation_scale=12,
                            shrinkA=0, shrinkB=0))
ax.annotate('', xy=(urban_end[0], 13.3), xytext=(107.1, 13.3),
            arrowprops=dict(arrowstyle='-|>', color=RED, lw=1.5, mutation_scale=10,
                            shrinkA=0, shrinkB=0))

# local-scale annotation above the right column
fig.text(867 / W, 1 - 40 / H, 'Local-scale ovals', ha='center', va='center', color=RED,
         fontsize=15, fontweight='bold', family=['Lato', 'DejaVu Sans'])
fig.add_artist(plt.Annotation('', xy=(758 / W, 1 - 67 / H), xytext=(777 / W, 1 - 51 / H),
                              xycoords='figure fraction', textcoords='figure fraction',
                              arrowprops=dict(arrowstyle='-|>', color=RED, lw=0.9,
                                              mutation_scale=10, shrinkA=0, shrinkB=0)))
fig.add_artist(plt.Annotation('', xy=(969 / W, 1 - 65 / H), xytext=(952 / W, 1 - 49 / H),
                              xycoords='figure fraction', textcoords='figure fraction',
                              arrowprops=dict(arrowstyle='-|>', color=RED, lw=0.9,
                                              mutation_scale=10, shrinkA=0, shrinkB=0)))
fig.text(798 / W, 1 - 78 / H, 'Landfill', ha='center', va='center', color=MAGENTA,
         fontsize=12.5, family=['Lato', 'DejaVu Sans'])
fig.text(990 / W, 1 - 78 / H, 'Rice field', ha='center', va='center', color=GREEN,
         fontsize=12.5, family=['Lato', 'DejaVu Sans'])

fig.savefig('out.png', dpi=100)
